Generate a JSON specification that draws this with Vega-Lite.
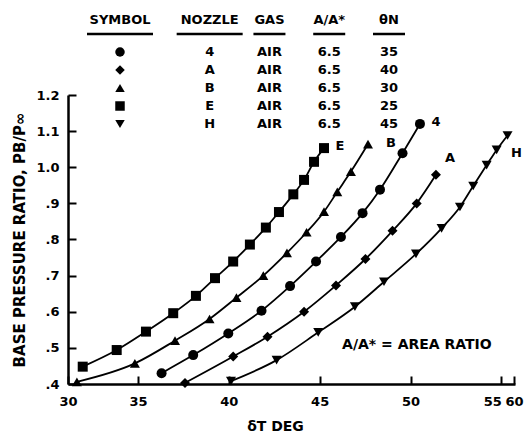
{
  "$schema": "https://vega.github.io/schema/vega-lite/v6.json",
  "width": 447,
  "height": 289,
  "autosize": "none",
  "padding": {"left": 68, "top": 95, "right": 10, "bottom": 55},
  "background": "white",
  "config": {
    "view": {"stroke": null},
    "font": "DejaVu Sans",
    "axis": {
      "grid": false,
      "domainColor": "black",
      "domainWidth": 2.5,
      "tickColor": "black",
      "tickWidth": 2,
      "labelColor": "black",
      "titleColor": "black",
      "labelFont": "DejaVu Sans",
      "labelFontWeight": "bold",
      "labelFontSize": 13,
      "titleFont": "DejaVu Sans",
      "titleFontWeight": "bold",
      "titleFontSize": 14
    },
    "axisY": {"labelOverlap": false},
    "text": {"font": "DejaVu Sans", "fontWeight": "bold", "fontSize": 13, "color": "black"}
  },
  "datasets": {
    "curves": [
      {"nozzle": "E", "delta": 31.96, "pressure": 0.448},
      {"nozzle": "E", "delta": 33.83, "pressure": 0.494},
      {"nozzle": "E", "delta": 35.44, "pressure": 0.545},
      {"nozzle": "E", "delta": 36.94, "pressure": 0.596},
      {"nozzle": "E", "delta": 38.19, "pressure": 0.644},
      {"nozzle": "E", "delta": 39.24, "pressure": 0.693},
      {"nozzle": "E", "delta": 40.24, "pressure": 0.739},
      {"nozzle": "E", "delta": 41.16, "pressure": 0.786},
      {"nozzle": "E", "delta": 42.04, "pressure": 0.833},
      {"nozzle": "E", "delta": 42.76, "pressure": 0.876},
      {"nozzle": "E", "delta": 43.55, "pressure": 0.925},
      {"nozzle": "E", "delta": 44.14, "pressure": 0.965},
      {"nozzle": "E", "delta": 44.69, "pressure": 1.015},
      {"nozzle": "E", "delta": 45.24, "pressure": 1.053},
      {"nozzle": "B", "delta": 31.64, "pressure": 0.406},
      {"nozzle": "B", "delta": 34.83, "pressure": 0.457},
      {"nozzle": "B", "delta": 37.04, "pressure": 0.52},
      {"nozzle": "B", "delta": 38.94, "pressure": 0.58},
      {"nozzle": "B", "delta": 40.42, "pressure": 0.639},
      {"nozzle": "B", "delta": 41.9, "pressure": 0.7},
      {"nozzle": "B", "delta": 43.2, "pressure": 0.763},
      {"nozzle": "B", "delta": 44.28, "pressure": 0.82},
      {"nozzle": "B", "delta": 45.24, "pressure": 0.877},
      {"nozzle": "B", "delta": 45.97, "pressure": 0.932},
      {"nozzle": "B", "delta": 46.72, "pressure": 0.988},
      {"nozzle": "B", "delta": 47.66, "pressure": 1.064},
      {"nozzle": "4", "delta": 36.3, "pressure": 0.43},
      {"nozzle": "4", "delta": 38.04, "pressure": 0.48},
      {"nozzle": "4", "delta": 39.97, "pressure": 0.54},
      {"nozzle": "4", "delta": 41.8, "pressure": 0.603},
      {"nozzle": "4", "delta": 43.37, "pressure": 0.671},
      {"nozzle": "4", "delta": 44.8, "pressure": 0.739},
      {"nozzle": "4", "delta": 46.17, "pressure": 0.807},
      {"nozzle": "4", "delta": 47.36, "pressure": 0.873},
      {"nozzle": "4", "delta": 48.32, "pressure": 0.938},
      {"nozzle": "4", "delta": 49.56, "pressure": 1.039},
      {"nozzle": "4", "delta": 50.52, "pressure": 1.12},
      {"nozzle": "A", "delta": 37.59, "pressure": 0.403},
      {"nozzle": "A", "delta": 40.24, "pressure": 0.476},
      {"nozzle": "A", "delta": 42.13, "pressure": 0.531},
      {"nozzle": "A", "delta": 44.14, "pressure": 0.6},
      {"nozzle": "A", "delta": 45.9, "pressure": 0.673},
      {"nozzle": "A", "delta": 47.52, "pressure": 0.746},
      {"nozzle": "A", "delta": 49.01, "pressure": 0.824},
      {"nozzle": "A", "delta": 50.34, "pressure": 0.9},
      {"nozzle": "A", "delta": 51.4, "pressure": 0.979},
      {"nozzle": "H", "delta": 40.12, "pressure": 0.408},
      {"nozzle": "H", "delta": 42.63, "pressure": 0.466},
      {"nozzle": "H", "delta": 44.92, "pressure": 0.543},
      {"nozzle": "H", "delta": 46.94, "pressure": 0.614},
      {"nozzle": "H", "delta": 48.54, "pressure": 0.683},
      {"nozzle": "H", "delta": 50.3, "pressure": 0.76},
      {"nozzle": "H", "delta": 51.71, "pressure": 0.831},
      {"nozzle": "H", "delta": 52.72, "pressure": 0.89},
      {"nozzle": "H", "delta": 53.45, "pressure": 0.948},
      {"nozzle": "H", "delta": 54.19, "pressure": 1.006},
      {"nozzle": "H", "delta": 54.74, "pressure": 1.048},
      {"nozzle": "H", "delta": 55.34, "pressure": 1.088}
    ],
    "table": [
      {"nozzle": "4", "gas": "AIR", "ratio": "6.5", "theta": "35"},
      {"nozzle": "A", "gas": "AIR", "ratio": "6.5", "theta": "40"},
      {"nozzle": "B", "gas": "AIR", "ratio": "6.5", "theta": "30"},
      {"nozzle": "E", "gas": "AIR", "ratio": "6.5", "theta": "25"},
      {"nozzle": "H", "gas": "AIR", "ratio": "6.5", "theta": "45"}
    ],
    "header": [
      {"col": "symbol", "label": "SYMBOL"},
      {"col": "nozzle", "label": "NOZZLE"},
      {"col": "gas", "label": "GAS"},
      {"col": "ratio", "label": "A/A*"},
      {"col": "theta", "label": "θN"}
    ]
  },
  "layer": [
    {
      "data": {"name": "curves"},
      "layer": [
        {
          "mark": {"type": "line", "color": "black", "strokeWidth": 1.8, "interpolate": "monotone"},
          "encoding": {
            "x": {
              "field": "delta", "type": "quantitative",
              "scale": {"domain": [31.15, 55.75], "nice": false, "zero": false},
              "axis": {
                "values": [31.15, 35, 40, 45, 50, 55, 55.7],
                "labelExpr": "datum.value < 32 ? '30' : (datum.value > 55.5 ? '60' : format(datum.value, 'd'))",
                "labelFlush": false,
                "labelOverlap": false,
                "labelBound": false,
                "labelAlign": {"condition": {"test": "datum.value == 55", "value": "right"}, "value": "center"},
                "tickSize": -8,
                "labelPadding": 19,
                "title": "δT DEG",
                "titleX": 207,
                "titlePadding": 11
              }
            },
            "y": {
              "field": "pressure", "type": "quantitative",
              "scale": {"domain": [0.4, 1.2], "nice": false, "zero": false},
              "axis": {
                "tickCount": 8,
                "labelExpr": "datum.value >= 0.99 ? format(datum.value, '.1f') : '.' + format(datum.value * 10, '.0f')",
                "labelFlush": false,
                "labelOverlap": false,
                "tickSize": -8,
                "labelPadding": 17,
                "title": "BASE PRESSURE RATIO, PB/P∞",
                "titleFontSize": 15,
                "titlePadding": 8
              }
            },
            "detail": {"field": "nozzle"}
          }
        },
        {
          "mark": {"type": "point", "filled": true, "color": "black", "size": 100, "opacity": 1},
          "encoding": {
            "x": {"field": "delta", "type": "quantitative"},
            "y": {"field": "pressure", "type": "quantitative"},
            "shape": {
              "field": "nozzle", "type": "nominal",
              "scale": {"domain": ["4", "A", "B", "E", "H"], "range": ["circle", "diamond", "triangle-up", "square", "triangle-down"]},
              "legend": null
            }
          }
        },
        {
          "transform": [
            {"joinaggregate": [{"op": "max", "field": "delta", "as": "maxd"}], "groupby": ["nozzle"]},
            {"filter": "datum.delta == datum.maxd && (datum.nozzle == 'E' || datum.nozzle == '4')"}
          ],
          "mark": {"type": "text", "dx": 16, "dy": -2},
          "encoding": {
            "x": {"field": "delta", "type": "quantitative"},
            "y": {"field": "pressure", "type": "quantitative"},
            "text": {"field": "nozzle"}
          }
        },
        {
          "transform": [
            {"joinaggregate": [{"op": "max", "field": "delta", "as": "maxd"}], "groupby": ["nozzle"]},
            {"filter": "datum.delta == datum.maxd && datum.nozzle == 'B'"}
          ],
          "mark": {"type": "text", "dx": 23, "dy": -1},
          "encoding": {
            "x": {"field": "delta", "type": "quantitative"},
            "y": {"field": "pressure", "type": "quantitative"},
            "text": {"field": "nozzle"}
          }
        },
        {
          "transform": [
            {"joinaggregate": [{"op": "max", "field": "delta", "as": "maxd"}], "groupby": ["nozzle"]},
            {"filter": "datum.delta == datum.maxd && datum.nozzle == 'A'"}
          ],
          "mark": {"type": "text", "dx": 14, "dy": -17},
          "encoding": {
            "x": {"field": "delta", "type": "quantitative"},
            "y": {"field": "pressure", "type": "quantitative"},
            "text": {"field": "nozzle"}
          }
        },
        {
          "transform": [
            {"joinaggregate": [{"op": "max", "field": "delta", "as": "maxd"}], "groupby": ["nozzle"]},
            {"filter": "datum.delta == datum.maxd && datum.nozzle == 'H'"}
          ],
          "mark": {"type": "text", "dx": 9, "dy": 18},
          "encoding": {
            "x": {"field": "delta", "type": "quantitative"},
            "y": {"field": "pressure", "type": "quantitative"},
            "text": {"field": "nozzle"}
          }
        },
        {
          "data": {"values": [{}]},
          "mark": {"type": "text", "fontSize": 14},
          "encoding": {
            "x": {"datum": 50.35, "type": "quantitative"},
            "y": {"datum": 0.508, "type": "quantitative"},
            "text": {"value": "A/A* = AREA RATIO"}
          }
        }
      ]
    },
    {
      "layer": [
        {
          "data": {"name": "header"},
          "mark": {"type": "text", "baseline": "alphabetic", "dy": -10},
          "encoding": {
            "x": {
              "field": "col", "type": "nominal",
              "scale": {"type": "point", "domain": ["symbol", "s1", "s2", "nozzle", "s3", "gas", "s4", "ratio", "s5", "theta"], "range": [52, 321], "padding": 0},
              "axis": null
            },
            "y": {
              "datum": "under", "type": "nominal",
              "scale": {"type": "point", "domain": ["under", "4", "A", "B", "E", "H"], "range": [-61, 29], "padding": 0},
              "axis": null
            },
            "text": {"field": "label"}
          }
        },
        {
          "data": {"name": "header"},
          "mark": {"type": "tick", "orient": "horizontal", "thickness": 2.5, "color": "black", "opacity": 1},
          "encoding": {
            "x": {"field": "col", "type": "nominal"},
            "y": {"datum": "under", "type": "nominal"},
            "size": {"condition": {"test": "datum.col == 'symbol' || datum.col == 'nozzle'", "value": 66}, "value": 32}
          }
        },
        {
          "data": {"name": "table"},
          "mark": {"type": "point", "filled": true, "color": "black", "size": 90, "opacity": 1},
          "encoding": {
            "x": {"datum": "symbol", "type": "nominal"},
            "y": {"field": "nozzle", "type": "nominal"},
            "shape": {"field": "nozzle", "type": "nominal", "legend": null}
          }
        },
        {
          "data": {"name": "table"},
          "transform": [{"fold": ["nozzle", "gas", "ratio", "theta"], "as": ["key", "value"]}],
          "mark": {"type": "text", "baseline": "middle"},
          "encoding": {
            "x": {"field": "key", "type": "nominal"},
            "y": {"field": "nozzle", "type": "nominal"},
            "text": {"field": "value"}
          }
        }
      ]
    }
  ],
  "resolve": {"scale": {"x": "independent", "y": "independent"}}
}
